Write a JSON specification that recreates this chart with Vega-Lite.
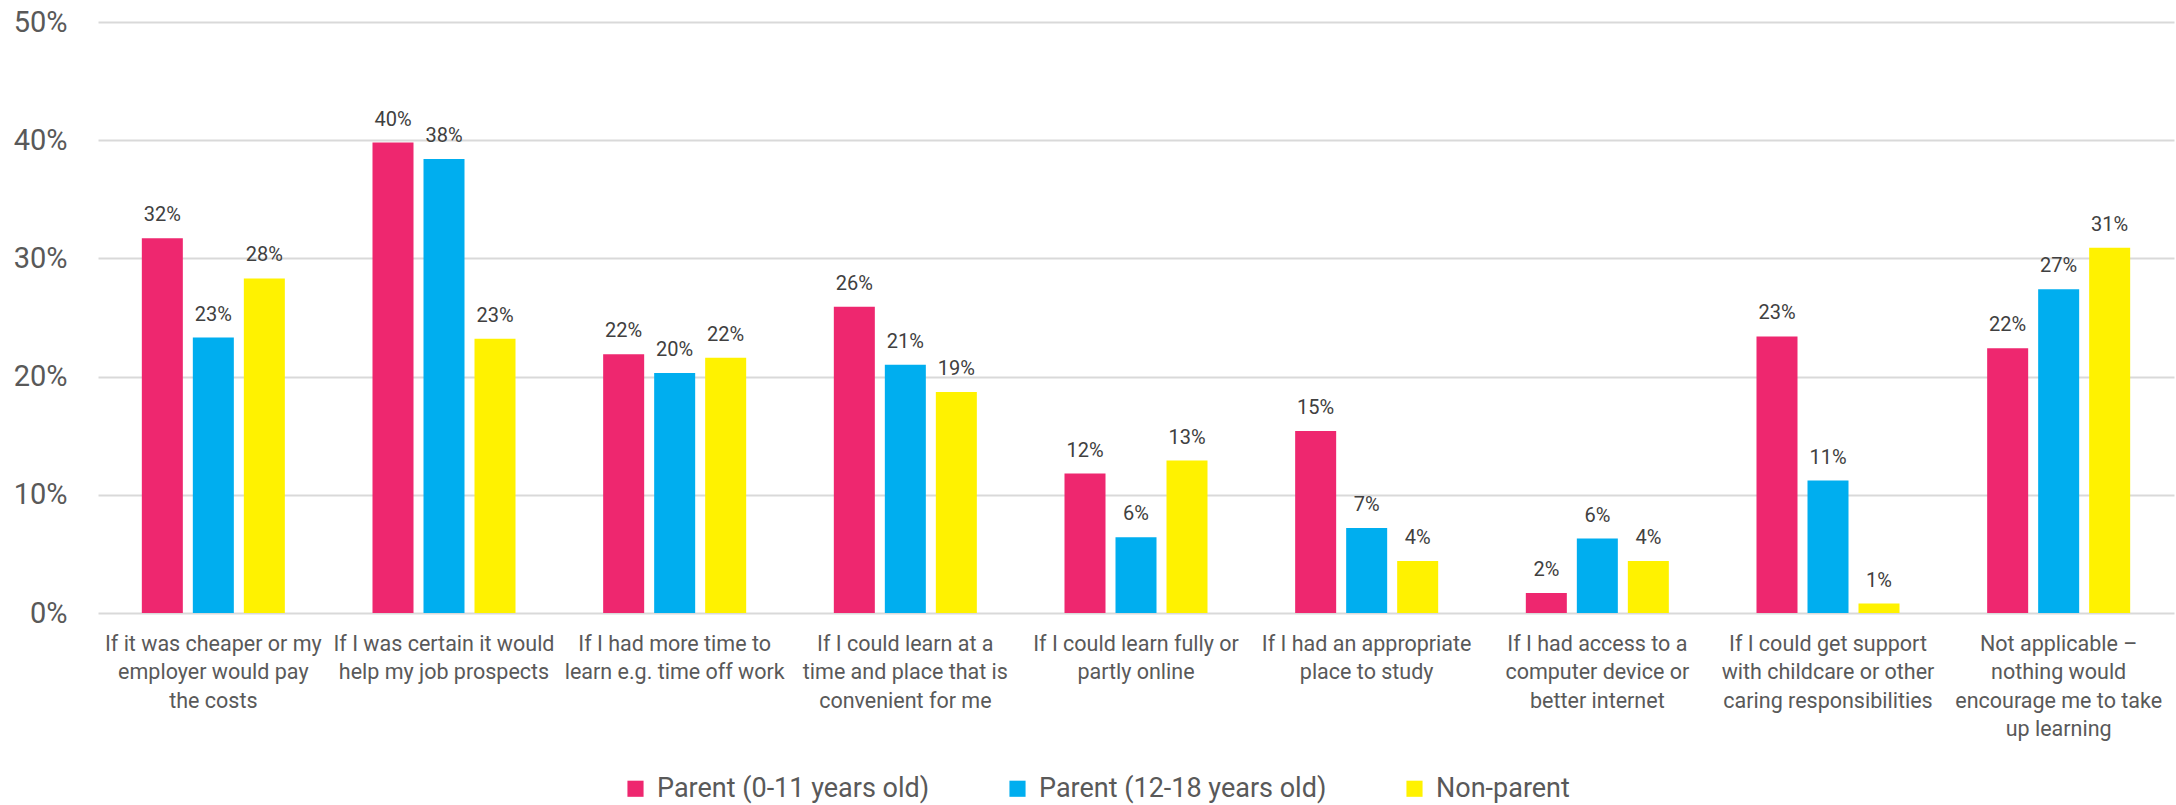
{
  "$schema": "https://vega.github.io/schema/vega-lite/v6.json",
  "autosize": {"type": "none"},
  "width": 2076,
  "height": 591,
  "padding": {"left": 98, "top": 22, "right": 2, "bottom": 192},
  "background": "white",
  "config": {
    "font": "Roboto",
    "view": {"stroke": null}
  },
  "data": {
    "values": [
      {"reason": "If it was cheaper or my|employer would pay|the costs", "group": "Parent (0-11 years old)", "value": 0.317},
      {"reason": "If it was cheaper or my|employer would pay|the costs", "group": "Parent (12-18 years old)", "value": 0.233},
      {"reason": "If it was cheaper or my|employer would pay|the costs", "group": "Non-parent", "value": 0.283},
      {"reason": "If I was certain it would|help my job prospects", "group": "Parent (0-11 years old)", "value": 0.398},
      {"reason": "If I was certain it would|help my job prospects", "group": "Parent (12-18 years old)", "value": 0.384},
      {"reason": "If I was certain it would|help my job prospects", "group": "Non-parent", "value": 0.232},
      {"reason": "If I had more time to|learn e.g. time off work", "group": "Parent (0-11 years old)", "value": 0.219},
      {"reason": "If I had more time to|learn e.g. time off work", "group": "Parent (12-18 years old)", "value": 0.203},
      {"reason": "If I had more time to|learn e.g. time off work", "group": "Non-parent", "value": 0.216},
      {"reason": "If I could learn at a|time and place that is|convenient for me", "group": "Parent (0-11 years old)", "value": 0.259},
      {"reason": "If I could learn at a|time and place that is|convenient for me", "group": "Parent (12-18 years old)", "value": 0.210},
      {"reason": "If I could learn at a|time and place that is|convenient for me", "group": "Non-parent", "value": 0.187},
      {"reason": "If I could learn fully or|partly online", "group": "Parent (0-11 years old)", "value": 0.118},
      {"reason": "If I could learn fully or|partly online", "group": "Parent (12-18 years old)", "value": 0.064},
      {"reason": "If I could learn fully or|partly online", "group": "Non-parent", "value": 0.129},
      {"reason": "If I had an appropriate|place to study", "group": "Parent (0-11 years old)", "value": 0.154},
      {"reason": "If I had an appropriate|place to study", "group": "Parent (12-18 years old)", "value": 0.072},
      {"reason": "If I had an appropriate|place to study", "group": "Non-parent", "value": 0.044},
      {"reason": "If I had access to a|computer device or|better internet", "group": "Parent (0-11 years old)", "value": 0.017},
      {"reason": "If I had access to a|computer device or|better internet", "group": "Parent (12-18 years old)", "value": 0.063},
      {"reason": "If I had access to a|computer device or|better internet", "group": "Non-parent", "value": 0.044},
      {"reason": "If I could get support|with childcare or other|caring responsibilities", "group": "Parent (0-11 years old)", "value": 0.234},
      {"reason": "If I could get support|with childcare or other|caring responsibilities", "group": "Parent (12-18 years old)", "value": 0.112},
      {"reason": "If I could get support|with childcare or other|caring responsibilities", "group": "Non-parent", "value": 0.008},
      {"reason": "Not applicable –|nothing would|encourage me to take|up learning", "group": "Parent (0-11 years old)", "value": 0.224},
      {"reason": "Not applicable –|nothing would|encourage me to take|up learning", "group": "Parent (12-18 years old)", "value": 0.274},
      {"reason": "Not applicable –|nothing would|encourage me to take|up learning", "group": "Non-parent", "value": 0.309}
    ]
  },
  "encoding": {
    "x": {
      "field": "reason", "type": "nominal", "sort": null,
      "scale": {"paddingInner": 0.38, "paddingOuter": 0.19},
      "axis": {
        "title": null, "labelAngle": 0, "ticks": false, "domain": false,
        "labelExpr": "split(datum.label, '|')",
        "labelFontSize": 21.5, "labelColor": "#595959", "labelLineHeight": 28.5,
        "labelPadding": 20, "labelBaseline": "top", "labelLimit": 300,
        "labelOverlap": false
      }
    },
    "xOffset": {
      "field": "group", "type": "nominal",
      "sort": ["Parent (0-11 years old)", "Parent (12-18 years old)", "Non-parent"],
      "scale": {"paddingInner": 0.196, "paddingOuter": 0}
    },
    "y": {
      "field": "value", "type": "quantitative",
      "scale": {"domain": [0, 0.5], "nice": false},
      "axis": {
        "title": null, "format": ".0%", "values": [0, 0.1, 0.2, 0.3, 0.4, 0.5],
        "ticks": false, "domain": false, "gridColor": "#D9D9D9", "gridWidth": 2,
        "labelFontSize": 29, "labelColor": "#595959", "labelPadding": 31
      }
    }
  },
  "layer": [
    {
      "mark": {"type": "bar"},
      "encoding": {
        "color": {
          "field": "group", "type": "nominal",
          "sort": ["Parent (0-11 years old)", "Parent (12-18 years old)", "Non-parent"],
          "scale": {
            "domain": ["Parent (0-11 years old)", "Parent (12-18 years old)", "Non-parent"],
            "range": ["#EE276F", "#00AEEF", "#FFF200"]
          },
          "legend": {
            "title": null, "orient": "none", "direction": "horizontal",
            "legendX": 524, "legendY": 753,
            "symbolType": "square", "symbolSize": 260, "symbolStrokeWidth": 0,
            "labelFontSize": 27, "labelColor": "#595959", "labelOffset": 8,
            "labelLimit": 500, "columnPadding": 74
          }
        }
      }
    },
    {
      "mark": {"type": "text", "baseline": "alphabetic", "dy": -17, "fontSize": 20, "color": "#404040"},
      "encoding": {
        "text": {"field": "value", "type": "quantitative", "format": ".0%"}
      }
    },
    {
      "mark": {"type": "rule", "color": "#D9D9D9", "strokeWidth": 3},
      "encoding": {"y": {"datum": 0}}
    }
  ]
}
